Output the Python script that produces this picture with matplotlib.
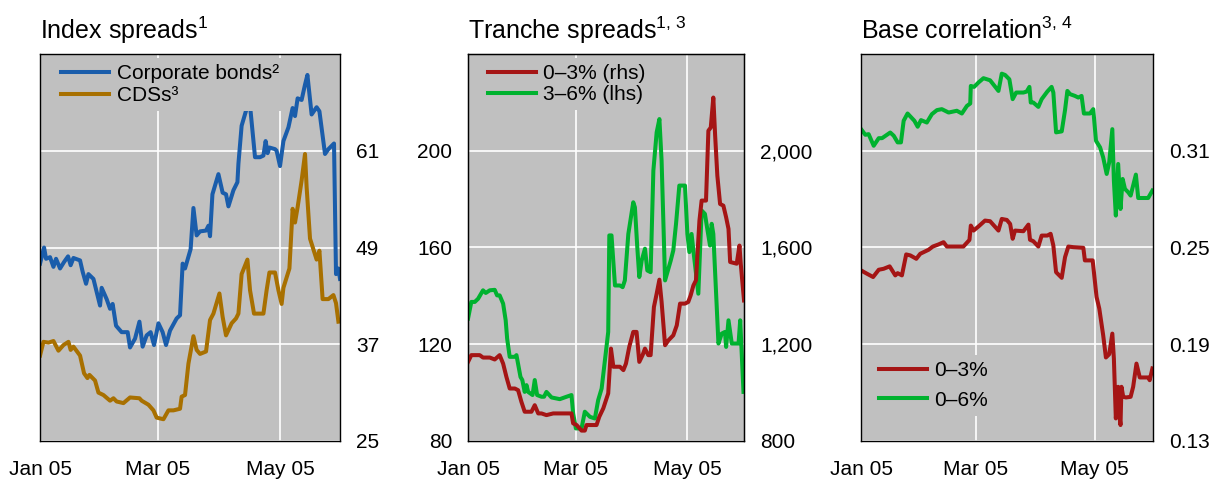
import numpy as np
import matplotlib
matplotlib.use('Agg')
import matplotlib.pyplot as plt
import matplotlib.dates as mdates
from matplotlib.ticker import FuncFormatter

plt.rcParams['font.family'] = ['Liberation Sans', 'DejaVu Sans']
plt.rcParams['mathtext.fontset'] = 'custom'
plt.rcParams['mathtext.rm'] = 'Liberation Sans'
plt.rcParams['mathtext.it'] = 'Liberation Sans:italic'

# all x values are days counted from 1 Jan 2005

# --- panel 1: index spreads
bond_day = [0, 2, 3, 5, 6.7, 8, 10, 12, 14, 15.3, 16.7, 20, 21.3, 23, 24.2, 26.7, 28.3, 30,
            30.8, 33.3, 35, 36.3, 38, 40.8, 43.8, 45, 47.5, 49.7, 51.3, 53.3, 55.3, 57, 59.2,
            61.3, 63, 65, 68.3, 70, 71.3, 72.5, 75.3, 76.7, 78.3, 80, 83, 84.2, 85, 86.2, 89.2,
            91.3, 93, 94.2, 96.7, 98.7, 99.2, 100.8, 104.7, 107.5, 110, 111.7, 112.8, 113.8,
            114.7, 117.5, 118.3, 120, 121.7, 124.2, 126.3, 127.5, 128.8, 130.8, 132.5, 133.7,
            135.8, 138.3, 139.7, 142.5, 144.2, 147, 148, 149.2, 150]
bond_val = [47.0, 49.0, 47.6, 47.8, 46.6, 47.6, 46.4, 47.2, 47.9, 46.8, 47.7, 47.4, 46.0, 44.5,
            45.7, 45.1, 43.5, 41.8, 44.0, 42.6, 41.4, 42.0, 39.3, 38.5, 38.5, 36.6, 37.7, 39.8,
            36.7, 38.1, 38.5, 36.9, 39.6, 38.5, 36.9, 38.7, 40.2, 40.6, 47.0, 46.4, 48.8, 53.9,
            50.5, 51.0, 51.1, 51.7, 50.4, 55.6, 58.1, 55.8, 55.6, 54.1, 56.1, 57.1, 59.4, 64.1,
            67.4, 60.2, 60.2, 60.4, 62.2, 60.7, 61.4, 61.2, 61.0, 59.1, 62.2, 63.9, 66.3, 65.3,
            67.5, 67.3, 69.2, 70.4, 65.5, 66.4, 65.9, 60.6, 61.2, 61.9, 45.7, 46.4, 45.1]

cds_day = [0, 1.7, 4.2, 6.7, 9.2, 11.7, 14.2, 15.3, 16.7, 20, 22, 23.7, 24.7, 27.5, 29.2, 31.7,
           35, 36.7, 38.3, 41.7, 45, 49.7, 50.8, 54.2, 56.7, 58.3, 61.7, 64.2, 66.7, 70, 70.8,
           72.5, 74.2, 76.7, 78.3, 80, 83, 85, 86.7, 89.7, 91.3, 93, 95.8, 98, 99.2, 100.8,
           103.7, 105, 107, 111.7, 113.3, 114.7, 117.5, 119.2, 120.8, 121.7, 124.7, 126.3,
           127.5, 128.8, 130.8, 132.5, 133.3, 135, 138.3, 139.7, 141.3, 144.2, 146.7, 148, 149.2]
cds_val = [35.6, 37.3, 37.2, 37.4, 36.2, 36.9, 37.3, 36.3, 36.7, 35.6, 33.4, 32.8, 33.2, 32.5,
           31.0, 30.7, 30.0, 30.3, 29.9, 29.7, 30.4, 30.3, 30.0, 29.5, 28.8, 27.9, 27.7, 28.8,
           28.8, 29.0, 30.5, 30.7, 34.6, 38.0, 36.3, 35.8, 36.1, 40.0, 40.8, 43.3, 40.4, 38.1,
           39.6, 40.2, 40.8, 45.7, 47.5, 43.7, 40.8, 40.8, 43.7, 45.9, 45.9, 43.7, 42.0, 44.0,
           46.4, 53.8, 52.1, 54.0, 57.3, 60.6, 56.5, 50.1, 47.5, 48.6, 42.6, 42.6, 43.1, 42.1, 39.8]

# --- panel 2: tranche spreads
t36_day = [0, 1.8, 3.7, 5.5, 8.2, 9.7, 11.9, 14.6, 15.9, 17.3, 19.2, 20.6, 21.4, 22.8, 25.6,
           26.5, 28.7, 29.7, 31, 32, 32.9, 35.3, 36.5, 37.8, 40.2, 41.6, 42.9, 45.7, 50.2, 53.9,
           56.6, 57.5, 59, 62.1, 63.9, 66.7, 69.4, 71.2, 73.1, 74.9, 76.7, 77.3, 78.5, 80.4,
           83.1, 84.6, 85.8, 87.7, 90.4, 91.3, 92.6, 93.7, 95, 96.8, 98.1, 99.9, 101.4, 103.2,
           104.7, 105.9, 107.8, 110.9, 112.3, 113.8, 115.6, 118.7, 120, 121.1, 122.3, 123.6,
           126, 127.8, 129.6, 130.9, 132.4, 133.3, 134.2, 137, 138.8, 140.6, 141.2, 142.5,
           144.3, 146.1, 148, 148.9, 150.7]
t36_val = [130.6, 137.5, 137.5, 138.8, 142.3, 141.2, 142.3, 142.5, 140.2, 140.2, 136.8, 129.9,
           122.3, 114.8, 114.8, 115.5, 106.5, 105.2, 100.3, 103.1, 100.3, 99.0, 105.2, 99.0,
           98.3, 98.3, 100.3, 98.0, 97.3, 98.3, 99.0, 91.4, 85.2, 85.2, 92.1, 90.0, 89.3, 96.9,
           101.7, 113.4, 125.1, 165.0, 165.0, 144.3, 144.3, 143.6, 146.4, 165.6, 178.7, 176.6,
           160.1, 147.8, 154.6, 159.5, 150.5, 149.8, 191.8, 207.6, 213.1, 195.9, 146.4, 154.6,
           158.8, 169.8, 185.6, 185.6, 165.6, 158.1, 165.6, 156.7, 140.9, 175.3, 173.9, 167.7,
           160.8, 169.8, 165.6, 120.3, 124.4, 125.1, 118.9, 129.9, 120.3, 120.3, 120.3, 129.9,
           100.3]

t03_day = [0, 1.8, 4.6, 6.4, 8.2, 11.9, 14.6, 17.3, 19.2, 21, 22.8, 25.6, 27.4, 29.2, 31, 34.7,
           36.5, 38.4, 40.2, 42.9, 46.6, 56.6, 57.5, 59.4, 62.1, 63.9, 64.8, 70.3, 71.8, 74,
           76.7, 78.2, 79.5, 83.1, 85, 86.4, 88.2, 90.4, 92.2, 93.7, 95.5, 96.8, 98.6, 99.9,
           101.7, 103.2, 104.7, 105.9, 107.8, 109.6, 112.3, 114.2, 116, 118.7, 120.5, 121.8,
           123.3, 124.7, 126.6, 127.8, 130.2, 131.5, 132.8, 134.2, 135.2, 136.4, 137.9, 139.7,
           141.2, 142.5, 143.4, 147, 148.5, 149.2, 151]
t03_val = [1127, 1155, 1155, 1155, 1145, 1145, 1137, 1155, 1120, 1065, 1017, 1017, 1010, 962,
           921, 921, 948, 914, 914, 907, 914, 914, 873, 866, 843, 843, 866, 866, 900, 935, 997,
           1182, 1107, 1107, 1093, 1120, 1189, 1251, 1251, 1127, 1155, 1182, 1155, 1155, 1354,
           1409, 1467, 1375, 1196, 1216, 1237, 1278, 1368, 1368, 1375, 1402, 1443, 1464, 1711,
           1794, 1794, 2083, 2096, 2220, 2062, 1897, 1780, 1773, 1725, 1677, 1540, 1533, 1608,
           1533, 1381]

# --- panel 3: base correlation
c06_day = [0, 2.2, 3.9, 6.5, 9.1, 10.8, 15, 16.8, 18.8, 20.5, 21.9, 23.9, 27.4, 29.1, 30.8,
           33.8, 36.4, 39, 41.5, 45, 49.2, 51.8, 54.4, 56.1, 56.4, 58.1, 60.3, 62.9, 66.3, 70.6,
           72.3, 74, 76.2, 77.9, 79.7, 83.4, 85.1, 86.5, 87.2, 88.5, 91.1, 92.8, 95.7, 97.9,
           98.8, 100.2, 103.1, 104.8, 106, 107.4, 109.9, 111.6, 113.3, 114.5, 117.6, 119.3,
           120.7, 122.8, 124.4, 126.2, 127.5, 129.1, 129.9, 130.9, 132.1, 133.3, 134.4, 135.6,
           137.3, 138.5, 141.2, 142.4, 147.5, 149.7]
c06_val = [0.3234, 0.3199, 0.3203, 0.3131, 0.3178, 0.3178, 0.3213, 0.3193, 0.3152, 0.3152,
           0.3286, 0.3331, 0.3286, 0.3249, 0.3290, 0.3275, 0.3327, 0.3352, 0.3358, 0.3337,
           0.3348, 0.3331, 0.3378, 0.3393, 0.3502, 0.3496, 0.3523, 0.3550, 0.3537, 0.3471,
           0.3578, 0.3570, 0.3543, 0.3420, 0.3461, 0.3461, 0.3467, 0.3496, 0.3399, 0.3399,
           0.3372, 0.3420, 0.3467, 0.3496, 0.3461, 0.3214, 0.3220, 0.3352, 0.3471, 0.3451,
           0.3440, 0.3430, 0.3440, 0.3331, 0.3331, 0.3358, 0.3162, 0.3121, 0.3059, 0.2956,
           0.3028, 0.3234, 0.2915, 0.2698, 0.3018, 0.2739, 0.2925, 0.2863, 0.2842, 0.2822,
           0.2952, 0.2807, 0.2807, 0.2853]

c03_day = [0, 3.1, 6.2, 9.1, 11.6, 14.7, 17.6, 18.8, 21, 23.2, 25.3, 28.4, 30.4, 34.7, 36.9,
           39.8, 42.4, 44.1, 52.6, 55.7, 56.4, 57.8, 60.3, 63.7, 66.3, 70.6, 72.3, 74.9, 76.6,
           77.9, 79.1, 83.4, 86, 86.8, 88.5, 91.1, 92.8, 95.7, 97.4, 98.8, 100.2, 103.1, 104.8,
           106.5, 109.1, 114.2, 115, 119, 121, 122.4, 124.4, 125.8, 127.5, 129.1, 129.9, 130.9,
           132.1, 132.6, 133.3, 133.8, 134.7, 136.1, 138.5, 139.8, 141.5, 143.2, 147.5, 148.3,
           149.7]
c03_val = [0.2358, 0.2337, 0.2317, 0.2362, 0.2368, 0.2383, 0.2327, 0.2341, 0.2327, 0.2457,
           0.2451, 0.2430, 0.2461, 0.2486, 0.2506, 0.2519, 0.2533, 0.2506, 0.2506, 0.2547,
           0.2636, 0.2605, 0.2630, 0.2667, 0.2663, 0.2605, 0.2677, 0.2671, 0.2646, 0.2554,
           0.2605, 0.2601, 0.2642, 0.2548, 0.2539, 0.2506, 0.2574, 0.2574, 0.2585, 0.2512,
           0.2347, 0.2312, 0.2440, 0.2506, 0.2502, 0.2498, 0.2420, 0.2420, 0.2193, 0.2121,
           0.1956, 0.1818, 0.1838, 0.1966, 0.1811, 0.1440, 0.1636, 0.1471, 0.1399, 0.1636,
           0.1574, 0.1570, 0.1574, 0.1636, 0.1780, 0.1694, 0.1694, 0.1677, 0.1750]

BG = '#c0c0c0'
BLUE = '#1a5dab'
GOLD = '#a87000'
RED = '#a51515'
GREEN = '#00b22f'
LW = 2.9
TICK_FS = 15
LEG_FS = 15
TITLE_FS = 18

base = mdates.date2num(np.datetime64('2005-01-01'))


def days(d):
    return base + np.array(d, dtype=float)


def style(ax, xmax):
    ax.set_facecolor(BG)
    ax.set_xlim(base, base + xmax)
    ax.set_xticks(days([0, 59, 120]))
    ax.xaxis.set_major_formatter(mdates.DateFormatter('%b %y'))
    ax.grid(True, color='white', lw=1.2)
    ax.set_axisbelow(True)
    ax.tick_params(axis='both', length=0, pad=11.5, labelsize=TICK_FS)
    ax.tick_params(axis='x', pad=13.5)
    for s in ax.spines.values():
        s.set_color('black')
        s.set_linewidth(1)


def legend(ax, handles, loc, anchor, spacing):
    lg = ax.legend(handles=handles, loc=loc, bbox_to_anchor=anchor, fontsize=LEG_FS,
                   handlelength=2.3, handletextpad=0.35, labelspacing=spacing,
                   borderpad=0.3, borderaxespad=0, frameon=True, fancybox=False,
                   facecolor=BG, edgecolor='none', framealpha=1)
    return lg


fig = plt.figure(figsize=(12.1, 4.8), dpi=100)
bot, hgt = 0.08125, 0.80625

# panel 1
ax1 = fig.add_axes([0.0331, bot, 0.2479, hgt])
style(ax1, 150)
l1, = ax1.plot(days(bond_day), bond_val, color=BLUE, lw=LW, label='Corporate bonds²')
l2, = ax1.plot(days(cds_day), cds_val, color=GOLD, lw=LW, label='CDSs³')
ax1.set_ylim(25, 73)
ax1.set_yticks([25, 37, 49, 61])
ax1.yaxis.tick_right()
ax1.set_title(r'Index spreads$^{\mathrm{1}}$', loc='left', fontsize=TITLE_FS, pad=11)
legend(ax1, [l1, l2], 'upper left', (0.05, 0.99), 0.15)

# panel 2
ax2 = fig.add_axes([0.3868, bot, 0.2281, hgt])
style(ax2, 151)
g, = ax2.plot(days(t36_day), t36_val, color=GREEN, lw=LW, label='3–6% (lhs)')
ax2.set_ylim(80, 240)
ax2.set_yticks([80, 120, 160, 200])
ax2r = ax2.twinx()
r, = ax2r.plot(days(t03_day), t03_val, color=RED, lw=LW, label='0–3% (rhs)')
ax2r.set_ylim(800, 2400)
ax2r.set_yticks([800, 1200, 1600, 2000])
ax2r.yaxis.set_major_formatter(FuncFormatter(lambda v, p: f'{v:,.0f}'))
ax2r.tick_params(axis='y', length=0, pad=11.5, labelsize=TICK_FS)
ax2r.set_xlim(base, base + 151)
ax2.set_title(r'Tranche spreads$^{\mathrm{1,\,3}}$', loc='left', fontsize=TITLE_FS, pad=11)
legend(ax2r, [r, g], 'upper left', (0.05, 0.99), 0.1)

# panel 3
ax3 = fig.add_axes([0.7116, bot, 0.2413, hgt])
style(ax3, 150)
a, = ax3.plot(days(c03_day), c03_val, color=RED, lw=LW, label='0–3%')
b, = ax3.plot(days(c06_day), c06_val, color=GREEN, lw=LW, label='0–6%')
ax3.set_ylim(0.13, 0.37)
ax3.set_yticks([0.13, 0.19, 0.25, 0.31])
ax3.yaxis.set_major_formatter(FuncFormatter(lambda v, p: f'{v:.2f}'))
ax3.yaxis.tick_right()
ax3.set_title(r'Base correlation$^{\mathrm{3,\,4}}$', loc='left', fontsize=TITLE_FS, pad=11)
legend(ax3, [a, b], 'lower left', (0.04, 0.065), 0.5)

fig.savefig('out.png', dpi=100)
